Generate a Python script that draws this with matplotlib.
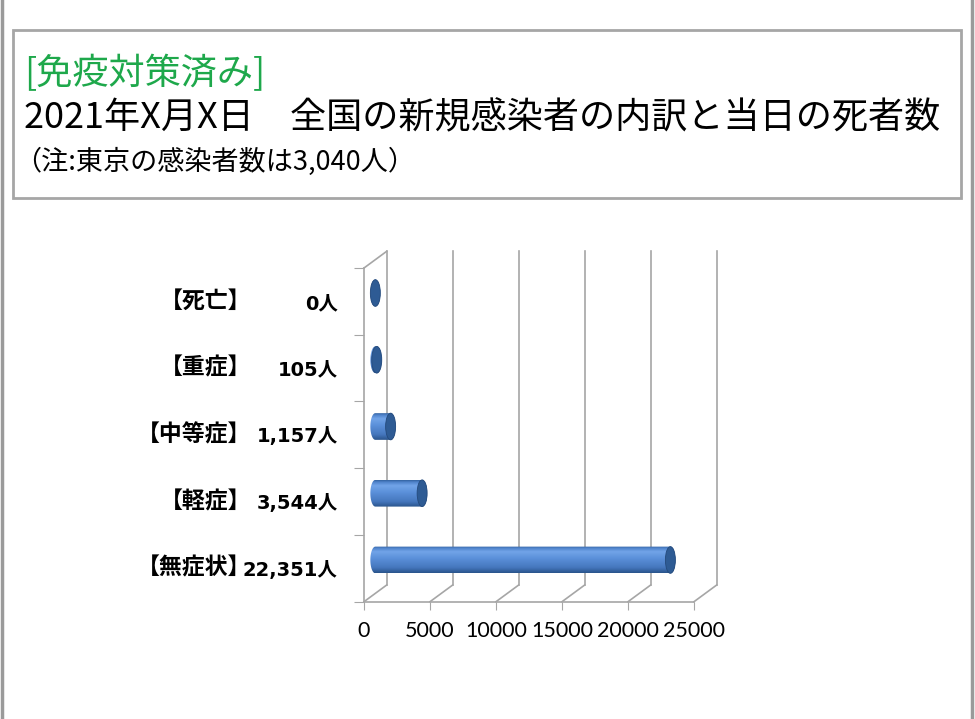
import numpy as np
import matplotlib
matplotlib.use('Agg')
import matplotlib.pyplot as plt
import matplotlib.transforms as mtransforms
from matplotlib.patches import Rectangle, Ellipse, PathPatch
from matplotlib.path import Path
from matplotlib.colors import LinearSegmentedColormap

plt.rcParams['font.family'] = ['Noto Sans CJK JP', 'DejaVu Sans']

# データ（下から順）
categories = ['【無症状】', '【軽症】', '【中等症】', '【重症】', '【死亡】']
values = [22351, 3544, 1157, 105, 0]
value_labels = ['22,351人', '3,544人', '1,157人', '105人', '0人']
x_ticks = [0, 5000, 10000, 15000, 20000, 25000]
x_tick_labels = ['0', '5000', '10000', '15000', '20000', '25000']

title_tag = '[免疫対策済み]'
title_main = '2021年X月X日\u3000全国の新規感染者の内訳と当日の死者数'
title_note = '（注:東京の感染者数は3,040人）'

W, H = 975, 719
gray = '#a6a6a6'
fig = plt.figure(figsize=(W / 100, H / 100), dpi=100)

# 外枠とタイトル枠
fig.add_artist(plt.Line2D([1.5 / W] * 2, [0, 1], color='#9a9a9a', lw=2.5))
fig.add_artist(plt.Line2D([972 / W] * 2, [0, 1], color='#9a9a9a', lw=2.5))
fig.add_artist(Rectangle((13 / W, 1 - 198 / H), 948 / W, 168 / H, fill=False,
                         ec=gray, lw=2, transform=fig.transFigure))

fig.text(24 / W, 1 - 73 / H, title_tag, color='#1ea84b', fontsize=26, va='center')
fig.text(24 / W, 1 - 118 / H, title_main, color='black', fontsize=26, va='center')
fig.text(14 / W, 1 - 162 / H, title_note, color='black', fontsize=19.5, va='center')

# グラフ本体（前面の軸）
ax = fig.add_axes([364 / W, 1 - 601.7 / H, 330 / W, 333.7 / H])
ax.set_xlim(0, 25000)
ax.set_ylim(0, len(categories))
ax.patch.set_visible(False)
for s in ['top', 'right']:
    ax.spines[s].set_visible(False)
for s in ['left', 'bottom']:
    ax.spines[s].set_color(gray)
    ax.spines[s].set_linewidth(1.2)

# 奥行き（データ単位）
dx = 25000 * 22.7 / 330
dy = len(categories) * 16.7 / 333.7

line_kw = dict(color=gray, lw=1.2, clip_on=False, zorder=1)
for x in x_ticks:
    ax.plot([x, x + dx], [0, dy], **line_kw)
    ax.plot([x + dx, x + dx], [dy, len(categories) + dy], **line_kw)
ax.plot([0, dx], [len(categories), len(categories) + dy], **line_kw)

# 円柱の棒
cmap = LinearSegmentedColormap.from_list('cyl', [
    (0.0, '#2a548c'), (0.2, '#4577bd'), (0.55, '#5b90da'),
    (0.8, '#72a4e8'), (0.93, '#5084cc'), (1.0, '#3464a3')])
grad = np.linspace(0, 1, 64).reshape(-1, 1)
bar_h = 0.4
a = 25000 * 5 / 330  # 楕円の横半径
b = bar_h / 2
t = np.linspace(0, np.pi, 40)

for i, v in enumerate(values):
    yc = i + 0.5 + dy / 2
    x0 = dx / 2
    x1 = v + dx / 2
    left = np.column_stack([x0 - a * np.sin(t), yc + b * np.cos(t)])
    right = np.column_stack([x1 + a * np.sin(t), yc - b * np.cos(t)])
    verts = np.vstack([left, right, left[:1]])
    body = PathPatch(Path(verts, closed=True), fc='none', ec='none')
    ax.add_patch(body)
    body.set_clip_on(False)
    im = ax.imshow(grad, cmap=cmap, origin='lower', aspect='auto',
                   extent=[x0 - a, x1 + a, yc - b, yc + b], zorder=2)
    im.set_clip_path(body)
    cap = Ellipse((x1, yc), 2 * a, 2 * b, fc='#2e5b94', ec='#244a7c',
                  lw=0.6, zorder=3, clip_on=False)
    ax.add_patch(cap)

ax.set_xlim(0, 25000)
ax.set_ylim(0, len(categories))

# 目盛
ax.set_xticks(x_ticks)
ax.set_xticklabels(x_tick_labels, family=['Lato', 'Noto Sans CJK JP'])
ax.tick_params(axis='x', length=6, color=gray, pad=8, labelsize=15.5)

ax.set_yticks(range(len(categories) + 1))
ax.set_yticklabels([])
ax.tick_params(axis='y', which='major', length=7, color=gray)
ax.set_yticks([i + 0.5 for i in range(len(categories))], minor=True)
ax.set_yticklabels(value_labels, minor=True, fontweight='bold',
                   family=['DejaVu Sans', 'Noto Sans CJK JP'])
ax.tick_params(axis='y', which='minor', length=0, pad=19, labelsize=14)

trans = mtransforms.blended_transform_factory(fig.transFigure, ax.transData)
for i, c in enumerate(categories):
    ax.text(251 / W, i + 0.5, c, transform=trans, ha='right', va='center',
            fontsize=16.5, fontweight='bold')

fig.savefig('out.png', dpi=100)
